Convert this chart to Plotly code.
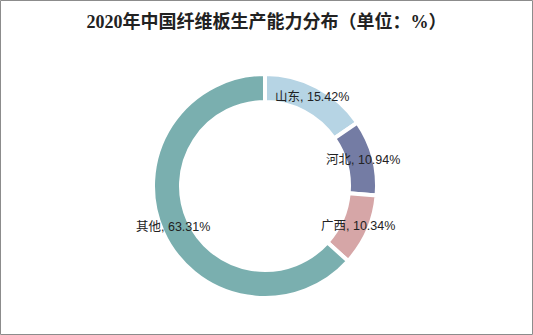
import math
import plotly.graph_objects as go

# Fibreboard production capacity share by province, 2020 (%)
regions = ["山东", "河北", "广西", "其他"]
shares = [15.42, 10.94, 10.34, 63.31]
colors = ["#b6d4e4", "#747ca4", "#d6a6a7", "#7aafaf"]
title_text = "2020年中国纤维板生产能力分布（单位：%）"

W, H = 533, 335
cx, cy = 265, 186          # pie centre in pixels (from top-left)
r_out = 112                # outer radius in pixels
hole = 0.75
r_label = 101              # labels sit on the ring's middle

fig = go.Figure(
    go.Pie(
        labels=regions,
        values=shares,
        hole=hole,
        sort=False,
        direction="clockwise",
        rotation=0,
        marker=dict(colors=colors, line=dict(color="white", width=4)),
        textinfo="none",
        hoverinfo="label+value",
        showlegend=False,
        domain=dict(
            x=[(cx - r_out) / W, (cx + r_out) / W],
            y=[(H - cy - r_out) / H, (H - cy + r_out) / H],
        ),
    )
)

# Labels "name, value%" placed at each slice's mid-angle
total = sum(shares)
acc = 0.0
for name, val in zip(regions, shares):
    mid = (acc + val / 2) / total * 2 * math.pi
    acc += val
    px = cx + r_label * math.sin(mid)
    py = cy - r_label * math.cos(mid)
    fig.add_annotation(
        x=px / W, y=1 - py / H, xref="paper", yref="paper",
        text=f"{name}, {val:.2f}%", showarrow=False,
        font=dict(size=12.5, color="#222222",
                  family="Liberation Sans, Noto Sans CJK SC, sans-serif"),
        xanchor="center", yanchor="middle",
    )

fig.update_layout(
    width=W, height=H,
    margin=dict(l=0, r=0, t=0, b=0),
    paper_bgcolor="white",
    plot_bgcolor="white",
    title=dict(
        text=f"<b>{title_text}</b>",
        x=0.5, xanchor="center", y=1 - 22 / H, yanchor="middle",
        font=dict(size=18, color="#222222",
                  family="Liberation Serif, Noto Sans CJK SC, serif"),
    ),
    shapes=[dict(type="rect", xref="paper", yref="paper",
                 x0=0.5 / W, x1=1 - 0.5 / W, y0=0.5 / H, y1=1 - 0.5 / H,
                 line=dict(color="#8c8c8c", width=1))],
)

fig.write_html("out.html")
